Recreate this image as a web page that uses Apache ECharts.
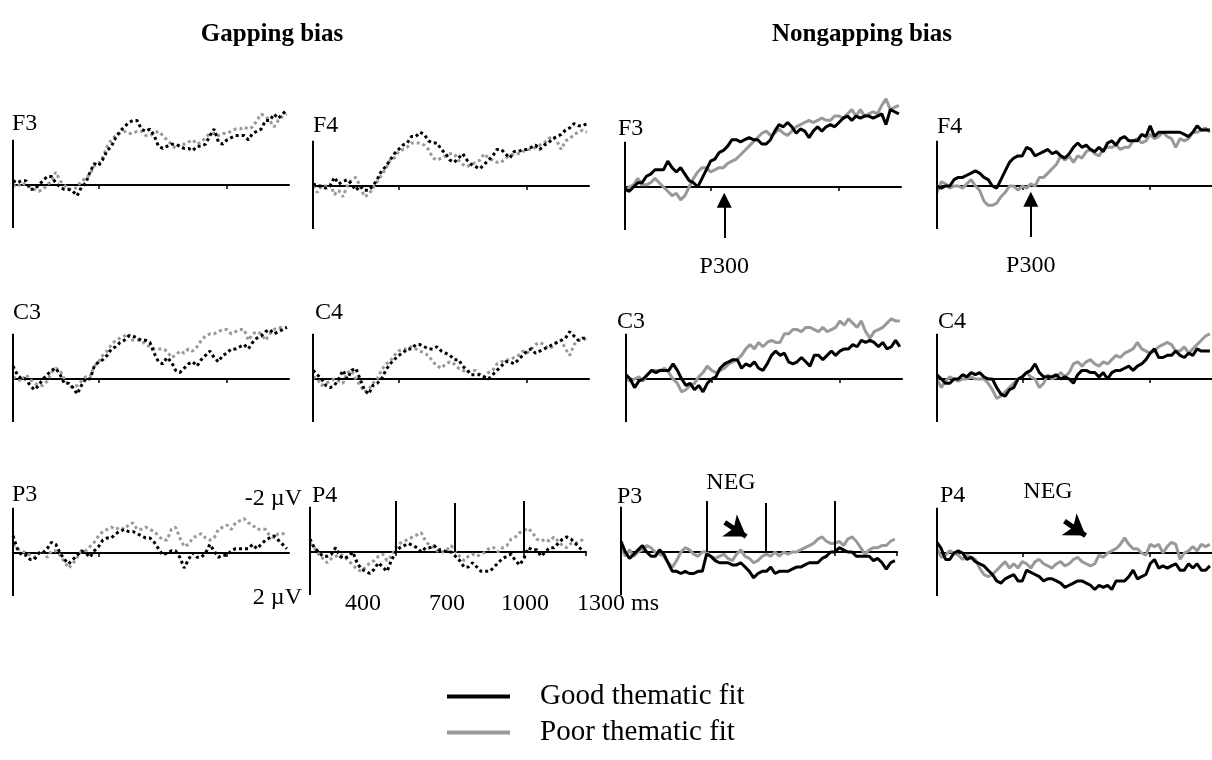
<!DOCTYPE html>
<html>
<head>
<meta charset="utf-8">
<script src="https://cdn.jsdelivr.net/npm/echarts@6/dist/echarts.min.js"></script>
<style>
  html, body { margin: 0; padding: 0; background: #fff; }
  #main { width: 1212px; height: 760px; }
</style>
</head>
<body>
<div id="main"></div>
<script>
// sample times (ms after onset), one value every 20 ms
const timesMs = [0,20,40,60,80,100,120,140,160,180,200,220,240,260,280,300,320,340,360,380,
  400,420,440,460,480,500,520,540,560,580,600,620,640,660,680,700,720,740,760,780,
  800,820,840,860,880,900,920,940,960,980,1000,1020,1040,1060,1080,1100,1120,1140,1160,1180,
  1200,1220,1240,1260,1280];

// amplitudes in microvolts, negative plotted up
// gapping bias
const gapF3Good = [-0.2,-0.1,-0.2,-0.2,0.2,0.2,0,-0.2,-0.4,-0.4,
  -0.1,0.1,0.2,0.2,0.3,0.5,0.1,-0.1,-0.6,-1.0,
  -0.9,-1.2,-1.6,-1.8,-2.2,-2.5,-2.7,-2.9,-3.0,-3.0,
  -2.6,-2.5,-2.6,-2.3,-1.8,-1.7,-1.8,-1.9,-1.9,-1.8,
  -1.7,-1.7,-1.6,-1.8,-1.8,-1.9,-2.3,-2.6,-2.0,-1.9,
  -2.1,-2.2,-2.3,-2.3,-2.3,-2.1,-2.4,-2.5,-2.6,-3.0,
  -3.0,-3.3,-3.1,-3.3,-3.5];
const gapF3Poor = [0,0.1,-0.1,0,0.1,0.2,0.3,0.2,0,-0.2,
  -0.6,-0.2,0,0.2,0.2,0.1,-0.2,-0.3,-0.5,-0.9,
  -1.0,-1.3,-1.8,-2.1,-2.3,-2.4,-2.5,-2.4,-2.4,-2.5,
  -2.5,-2.3,-2.3,-2.4,-2.5,-2.3,-2.1,-1.9,-1.7,-1.9,
  -1.9,-2.0,-2.1,-1.9,-2.0,-2.2,-2.4,-2.4,-2.3,-2.4,
  -2.4,-2.5,-2.6,-2.6,-2.7,-2.6,-2.7,-3.0,-3.3,-3.2,
  -3.0,-2.7,-3.0,-3.2,-3.3];
const gapF4Good = [-0.1,0,0,0.1,0,-0.4,-0.1,-0.2,-0.3,-0.1,
  0.2,0,0.2,0.2,0,-0.3,-0.7,-0.9,-1.2,-1.5,
  -1.7,-1.9,-2.0,-2.3,-2.3,-2.5,-2.4,-2.1,-2.0,-2.0,
  -1.7,-1.5,-1.2,-1.1,-1.3,-1.5,-1.2,-1.0,-0.9,-0.8,
  -1.0,-1.2,-1.4,-1.7,-1.7,-1.5,-1.3,-1.6,-1.6,-1.7,
  -1.7,-1.8,-1.9,-1.7,-1.9,-2.0,-2.2,-2.3,-2.4,-2.6,
  -2.7,-2.9,-2.8,-2.8,-2.9];
const gapF4Poor = [0,0.3,0,0,-0.1,0.4,0.2,0.5,0,-0.3,
  -0.4,0,0.5,0.4,0.1,-0.2,-0.5,-0.8,-1.2,-1.3,
  -1.6,-1.7,-1.8,-2.0,-2.0,-2.0,-1.9,-1.7,-1.3,-1.2,
  -1.3,-1.4,-1.5,-1.5,-1.2,-1.0,-0.9,-1.0,-1.1,-1.2,
  -1.5,-1.3,-1.2,-1.1,-1.1,-1.3,-1.4,-1.5,-1.5,-1.6,
  -1.7,-1.7,-1.8,-1.9,-2.0,-2.2,-2.3,-2.1,-1.7,-2.1,
  -2.2,-2.4,-2.5,-2.6,-2.5];
const gapC3Good = [-0.6,-0.2,0,0,0.3,0.5,0.3,0,-0.2,-0.4,
  -0.5,-0.2,0.2,0.2,0.4,0.7,0.3,0,0,-0.6,
  -0.8,-0.9,-1.1,-1.4,-1.5,-1.7,-1.8,-2.0,-2.0,-1.9,
  -1.8,-1.8,-1.7,-1.2,-0.8,-0.7,-1.0,-0.8,-0.4,-0.3,
  -0.5,-0.7,-0.8,-0.6,-0.9,-1.1,-1.3,-1.0,-0.8,-1.1,
  -1.2,-1.4,-1.4,-1.5,-1.6,-1.4,-1.7,-1.9,-2.0,-2.2,
  -2.3,-2.1,-2.2,-2.3,-2.4];
const gapC3Poor = [-0.1,0,0.1,-0.2,0,0.2,0.3,0.3,0.1,-0.3,
  -0.5,-0.4,0,0.3,0.4,0.3,0.1,-0.1,-0.1,-0.6,
  -0.8,-1.1,-1.3,-1.6,-1.8,-1.9,-2.0,-2.1,-1.8,-1.8,
  -1.8,-1.6,-1.5,-1.4,-1.4,-1.4,-1.3,-1.0,-1.1,-1.3,
  -1.2,-1.4,-1.3,-1.5,-1.8,-2.0,-2.1,-2.1,-2.2,-2.3,
  -2.3,-2.1,-2.2,-2.3,-2.3,-1.8,-2.1,-2.2,-2.1,-1.8,
  -2.1,-2.3,-2.4,-2.4,-2.4];
const gapC4Good = [-0.4,-0.2,0,0.3,0.4,0.3,0,-0.4,0,-0.4,
  -0.5,0,0.5,0.7,0.3,0.2,0,-0.4,-0.7,-0.9,
  -1.1,-1.2,-1.4,-1.4,-1.6,-1.6,-1.5,-1.4,-1.4,-1.5,
  -1.3,-1.2,-1.1,-0.9,-0.9,-0.6,-0.4,-0.2,-0.2,-0.2,
  -0.1,0,-0.2,-0.4,-0.6,-0.8,-0.8,-0.7,-0.9,-1.1,
  -1.3,-1.4,-1.2,-1.3,-1.4,-1.5,-1.6,-1.7,-1.8,-1.9,
  -2.2,-2.0,-1.8,-1.9,-1.9];
const gapC4Poor = [-0.1,0,0.3,0.2,0.1,0,0.1,0.2,-0.3,-0.4,
  0,0.3,0.6,0.5,0.2,0,-0.4,-0.7,-0.8,-1.1,
  -1.3,-1.4,-1.4,-1.5,-1.4,-1.3,-1.2,-1.1,-0.8,-0.6,
  -0.5,-0.7,-0.8,-0.7,-0.5,-0.4,-0.3,-0.4,-0.4,-0.2,
  -0.1,-0.3,-0.4,-0.7,-0.8,-0.9,-0.9,-1.0,-1.1,-1.3,
  -1.2,-1.4,-1.6,-1.7,-1.6,-1.4,-1.5,-1.7,-1.8,-1.4,
  -1.1,-1.6,-1.8,-1.8,-1.9];
const gapP3Good = [-0.8,-0.2,0.1,0.1,0.3,0.3,0,0,-0.2,-0.5,
  -0.4,0,0.3,0.5,0.3,0.1,-0.1,0,0.2,-0.1,
  -0.3,-0.6,-0.7,-0.7,-0.9,-1.0,-1.1,-1.0,-1.0,-0.9,
  -0.8,-0.7,-0.7,-0.5,-0.2,0.1,0,-0.1,-0.1,0.2,
  0.7,0.3,0,0.2,0.2,0,-0.4,-0.1,0.2,0.1,
  0.1,-0.1,-0.2,-0.2,-0.2,-0.2,-0.4,-0.2,-0.4,-0.6,
  -0.7,-0.8,-0.6,-0.4,-0.2];
const gapP3Poor = [-0.4,-0.2,-0.1,0,0.1,0.2,0,-0.1,0.2,-0.1,
  -0.1,0.1,0.4,0.7,0.5,0.2,-0.1,-0.1,-0.3,-0.5,
  -0.8,-1.0,-1.1,-1.2,-1.1,-1.2,-1.1,-1.3,-1.4,-1.1,
  -1.1,-1.2,-1.1,-1.0,-0.8,-0.6,-0.6,-1.1,-1.2,-0.7,
  -0.3,-0.4,-0.7,-0.8,-0.9,-0.7,-0.6,-0.7,-1.1,-1.2,
  -1.3,-1.1,-1.4,-1.5,-1.6,-1.4,-1.3,-1.1,-1.1,-1.1,
  -0.8,-0.7,-0.9,-0.9,-0.9];
const gapP4Good = [-0.6,-0.2,0,0.2,0.2,0.1,-0.2,0.2,0.3,0.2,
  0,0.5,0.8,0.9,1.0,0.8,0.5,0.7,0.9,0.4,
  0,-0.2,-0.3,-0.4,-0.3,-0.2,0,-0.2,-0.2,-0.3,
  -0.1,-0.1,0,0,0.2,0.4,0.7,0.7,0.5,0.7,
  0.9,0.9,0.9,0.7,0.5,0.3,0.2,0.1,0.4,0.6,
  0.3,-0.2,-0.1,-0.1,0.2,0,-0.2,-0.2,-0.4,-0.6,
  -0.7,-0.6,-0.4,-0.2,0];
const gapP4Poor = [-0.4,-0.2,0.1,0.3,0.5,0.3,0.2,0.1,0.2,0.4,
  0.6,0.8,0.9,0.7,0.5,0.4,0.2,0.1,0.4,0.2,
  -0.2,-0.4,-0.5,-0.6,-0.7,-0.8,-0.9,-0.5,-0.3,-0.2,
  0,0,-0.1,-0.3,0,0.2,0.4,0.2,0.1,0.2,
  0.1,0,-0.2,-0.2,0,-0.2,-0.3,-0.6,-0.7,-0.9,
  -1.0,-1.1,-0.9,-0.6,-0.5,-0.6,-0.5,-0.7,-0.5,-0.3,
  -0.2,-0.4,-0.4,-0.5,-0.6];

// nongapping bias
const ngF3Good = [0.1,0.2,0,-0.2,-0.2,-0.5,-0.6,-0.8,-0.8,-0.8,
  -1.2,-0.9,-0.7,-0.9,-0.6,-0.3,-0.2,0,-0.4,-0.8,
  -1.2,-1.3,-1.6,-1.7,-1.9,-2.2,-2.2,-2.1,-2.2,-2.3,
  -2.2,-2.2,-2.0,-2.0,-2.2,-2.6,-2.9,-2.8,-3.0,-2.8,
  -2.5,-2.7,-2.6,-2.3,-2.6,-2.8,-2.6,-2.8,-2.9,-2.8,
  -3.0,-3.2,-3.3,-3.1,-3.3,-3.2,-3.3,-3.3,-3.2,-3.3,
  -3.4,-2.9,-3.6,-3.5,-3.4];
const ngF3Poor = [0.2,0,-0.1,-0.4,-0.1,-0.1,-0.2,-0.4,-0.2,0,
  0.2,0.4,0.3,0.6,0.4,0,-0.4,-0.7,-0.9,-0.9,
  -0.7,-0.8,-0.9,-0.9,-1.1,-1.2,-1.3,-1.5,-1.7,-1.9,
  -2.1,-2.3,-2.5,-2.6,-2.4,-2.5,-2.7,-2.5,-2.4,-2.6,
  -2.8,-2.9,-3.0,-3.1,-3.0,-3.1,-3.2,-3.1,-3.1,-3.3,
  -3.3,-3.2,-3.4,-3.6,-3.3,-3.6,-3.3,-3.4,-3.5,-3.4,
  -3.8,-4.1,-3.6,-3.7,-3.8];
const ngF4Good = [0,0.1,0,0,-0.3,-0.4,-0.4,-0.5,-0.6,-0.7,
  -0.6,-0.4,-0.3,0,0.1,-0.3,-0.7,-1.1,-1.3,-1.4,
  -1.4,-1.8,-1.7,-1.4,-1.5,-1.6,-1.7,-1.5,-1.6,-1.4,
  -1.3,-1.5,-1.8,-2.0,-1.8,-1.9,-1.7,-1.6,-1.8,-1.6,
  -2.0,-2.1,-1.9,-2.2,-2.3,-2.1,-2.1,-2.1,-2.4,-2.3,
  -2.8,-2.3,-2.5,-2.5,-2.5,-2.5,-2.5,-2.5,-2.4,-2.3,
  -2.5,-2.8,-2.6,-2.6,-2.6];
const ngF4Poor = [0.3,-0.2,-0.1,0.1,0,0,0.1,-0.1,-0.3,0,
  0.2,0.7,0.9,0.9,0.8,0.5,0.3,0,0,0.2,
  0,0.1,-0.1,0,-0.4,-0.4,-0.6,-0.8,-1.0,-1.4,
  -1.2,-1.4,-1.1,-1.4,-1.3,-1.6,-1.7,-1.5,-1.4,-1.7,
  -1.8,-1.8,-1.9,-1.7,-1.8,-1.8,-2.1,-2.2,-2.0,-2.1,
  -2.4,-2.2,-2.3,-2.5,-2.3,-2.2,-1.8,-2.2,-2.1,-2.2,
  -2.5,-2.5,-2.6,-2.7,-2.5];
const ngC3Good = [-0.2,0,0.4,0.1,0,-0.2,-0.4,-0.3,-0.4,-0.4,
  -0.4,-0.7,-0.4,0,0.3,0.2,0.5,0.3,0.6,0.2,
  0,-0.1,-0.5,-0.7,-0.8,-0.9,-0.9,-0.5,-0.7,-0.6,
  -0.8,-0.5,-0.4,-0.7,-1.1,-1.3,-1.1,-1.2,-0.8,-0.7,
  -0.8,-1.0,-0.8,-0.6,-1.1,-1.1,-0.9,-1.1,-1.3,-1.1,
  -1.3,-1.4,-1.4,-1.6,-1.5,-1.8,-1.7,-1.8,-1.7,-1.5,
  -1.7,-1.4,-1.5,-1.8,-1.5];
const ngC3Poor = [0,0.1,0,-0.1,0.1,-0.2,-0.4,-0.4,-0.4,-0.5,
  -0.3,0,0.2,0.6,0.5,0.3,0.2,-0.1,-0.3,-0.6,
  -0.4,-0.3,-0.4,-0.5,-0.7,-0.8,-0.9,-1.1,-1.4,-1.6,
  -1.4,-1.7,-1.5,-1.7,-1.8,-1.7,-1.7,-2.1,-2.1,-2.3,
  -2.3,-2.2,-2.4,-2.4,-2.3,-2.2,-2.4,-2.2,-2.3,-2.4,
  -2.7,-2.5,-2.8,-2.6,-2.4,-2.7,-2.2,-1.9,-2.2,-2.3,
  -2.4,-2.6,-2.8,-2.7,-2.7];
const ngC4Good = [-0.2,0,0.2,0.2,0,0,-0.2,-0.1,-0.3,-0.2,
  -0.3,-0.1,0,0,0.4,0.7,0.8,0.5,0.4,0,
  -0.1,-0.3,-0.4,-0.7,-0.3,-0.1,-0.1,-0.1,-0.2,0,
  -0.1,0,0.2,-0.2,-0.4,-0.4,-0.3,-0.3,-0.1,-0.3,
  0,-0.3,-0.4,-0.4,-0.5,-0.6,-0.4,-0.6,-0.7,-0.9,
  -1.2,-1.4,-1.0,-1.0,-1.1,-1.1,-1.3,-1.1,-1.0,-1.2,
  -1.1,-1.4,-1.3,-1.3,-1.3];
const ngC4Poor = [0,0.4,0.1,-0.1,0,0.1,0,0,-0.1,0,
  0,0,0.2,0.5,0.9,0.8,0.6,0.4,0.2,0,
  -0.1,-0.3,-0.1,0,0.4,0.2,-0.2,0,-0.1,-0.3,
  -0.1,-0.3,-0.7,-0.8,-0.6,-0.8,-0.9,-0.7,-0.6,-0.8,
  -0.7,-0.9,-1.1,-1.0,-1.2,-1.3,-1.4,-1.7,-1.4,-1.3,
  -1.2,-1.3,-1.5,-1.6,-1.7,-1.6,-1.3,-1.3,-1.5,-1.2,
  -1.4,-1.6,-1.8,-2.0,-2.1];
const ngP3Good = [-0.5,0,0.3,0.1,-0.1,-0.3,0,0.2,0.2,-0.1,
  0.1,0.5,0.9,0.9,1.0,0.9,1.0,1.0,0.9,0.9,
  0.1,0.2,0.4,0.5,0.5,0.5,0.6,0.6,0.5,0.7,
  0.9,1.2,1.0,0.9,0.9,0.7,1.0,0.9,0.9,0.9,
  0.8,0.7,0.7,0.6,0.5,0.5,0.5,0.3,0.2,0,
  0,-0.2,-0.1,0,0,0.2,0.2,0.2,0.2,0.4,
  0.3,0.5,0.8,0.5,0.4];
const ngP3Poor = [-0.3,0.2,-0.1,0.2,0,-0.1,-0.3,-0.2,0,0.1,
  0.2,0.5,0.7,0.4,0,-0.2,-0.1,0.1,0.2,0,
  0,0.2,0.3,0.2,0.1,0.3,0.4,0.1,-0.1,0.2,
  0.3,0.5,0.4,0.2,0.1,0.2,0,0.2,0,0.1,
  0,0,-0.1,-0.2,-0.3,-0.4,-0.6,-0.7,-0.5,-0.4,
  -0.4,-0.5,-0.3,-0.6,-0.7,-0.5,-0.2,0.1,-0.1,-0.2,
  -0.2,-0.3,-0.3,-0.5,-0.6];
const ngP4Good = [-0.5,-0.2,0.3,0.3,0,-0.1,0,0.3,0.2,0.4,
  0.5,0.6,0.8,1.0,1.3,1.4,1.2,1.1,1.0,1.3,
  1.3,0.8,0.9,1.0,1.1,1.3,1.2,1.2,1.3,1.4,
  1.6,1.5,1.4,1.3,1.3,1.4,1.5,1.7,1.5,1.6,
  1.5,1.7,1.3,1.3,1.3,1.1,0.8,1.2,1.1,1.0,
  0.5,0.3,0.7,0.6,0.7,0.6,0.5,0.8,0.8,0.5,
  0.7,0.5,0.8,0.8,0.6];
const ngP4Poor = [-0.2,0.2,0.1,-0.1,0,0.1,0.3,0.1,0.2,0.3,
  0.7,1.0,1.1,1.0,0.8,0.6,0.4,0.7,0.5,0.7,
  0.4,0.5,0.7,0.4,0.3,0.5,0.6,0.7,0.5,0.4,
  0.6,0.5,0.3,0.2,0.4,0.5,0.6,0.5,0.1,0.2,
  0,-0.1,-0.2,-0.4,-0.7,-0.4,-0.2,-0.2,0,0.1,
  -0.4,-0.3,-0.4,0,-0.3,-0.5,-0.4,0.3,0,-0.1,
  -0.3,-0.1,-0.4,-0.3,-0.4];

// annotations (ms / µV)
const yAxisSpanUv = [-2.1, 2.0];
const windowLinesMs = [400, 675, 1000];
const windowTopUv = [-2.37, -2.28, -2.37];
const p300Ms = [464, 440];
const p300SpanUv = [2.37, 0.62];
const negArrows = [[[485, -1.38], [585, -0.72]], [[598, -1.48], [697, -0.81]]];

const SERIF = '"Liberation Serif", "Times New Roman", serif';
const BLACK = '#000000';
const GRAY = '#999999';
const X_MAX = 1290;
const Y_TOP = -4.5, Y_BOTTOM = 2.5;
const PX_PER_UV = 21.5;

// layout of the 12 panels
const panels = [
  { label: 'F3', left: 13,  base: 185, good: gapF3Good, poor: gapF3Poor, dotted: true },
  { label: 'F4', left: 313, base: 186, good: gapF4Good, poor: gapF4Poor, dotted: true },
  { label: 'F3', left: 625, base: 187, good: ngF3Good,  poor: ngF3Poor,  p300: 0 },
  { label: 'F4', left: 937, base: 186, good: ngF4Good,  poor: ngF4Poor,  p300: 1 },
  { label: 'C3', left: 13,  base: 379, good: gapC3Good, poor: gapC3Poor, dotted: true },
  { label: 'C4', left: 313, base: 379, good: gapC4Good, poor: gapC4Poor, dotted: true },
  { label: 'C3', left: 626, base: 379, good: ngC3Good,  poor: ngC3Poor },
  { label: 'C4', left: 937, base: 379, good: ngC4Good,  poor: ngC4Poor },
  { label: 'P3', left: 13,  base: 553, good: gapP3Good, poor: gapP3Poor, dotted: true },
  { label: 'P4', left: 310, base: 552, good: gapP4Good, poor: gapP4Poor, dotted: true, windows: true, endTick: true },
  { label: 'P3', left: 621, base: 552, good: ngP3Good,  poor: ngP3Poor,  windows: true, endTick: true, neg: 0 },
  { label: 'P4', left: 937, base: 553, good: ngP4Good,  poor: ngP4Poor,  neg: 1 }
];
const labelPos = [[12,124],[313,126],[618,129],[937,127],[13,313],[315,313],[617,322],[938,322],[12,495],[312,496],[617,497],[940,496]];

function toPairs(vals) {
  return vals.map(function (v, i) { return [timesMs[i], v]; });
}

// one markLine segment; style taken from the start item
function seg(a, b, width, endSymbol, endSize, label) {
  return [
    { coord: a, symbol: 'none', lineStyle: { color: BLACK, width: width, type: 'solid' },
      label: label || { show: false } },
    { coord: b, symbol: endSymbol || 'none', symbolSize: endSize || 1 }
  ];
}

const grids = [], xAxes = [], yAxes = [], series = [];
panels.forEach(function (p, i) {
  grids.push({
    left: p.left, top: p.base + Y_TOP * PX_PER_UV,
    width: 276, height: (Y_BOTTOM - Y_TOP) * PX_PER_UV
  });
  xAxes.push({
    type: 'value', gridIndex: i, min: 0, max: X_MAX,
    axisLine: { show: true, onZero: true, lineStyle: { color: BLACK, width: 2 } },
    axisTick: { show: true, customValues: p.endTick ? [400, 1000, X_MAX] : [400, 1000], length: 4,
      lineStyle: { color: BLACK, width: 1.5 } },
    axisLabel: { show: false }, splitLine: { show: false }
  });
  yAxes.push({
    type: 'value', gridIndex: i, min: Y_TOP, max: Y_BOTTOM, inverse: true,
    axisLine: { show: false }, axisTick: { show: false },
    axisLabel: { show: false }, splitLine: { show: false }
  });

  const lineType = p.dotted ? [3, 3] : 'solid';
  const poor = {
    type: 'line', name: p.dotted ? 'Poor (gapping)' : 'Poor thematic fit',
    xAxisIndex: i, yAxisIndex: i, data: toPairs(p.poor),
    showSymbol: false, symbol: 'none', clip: false, silent: true, color: GRAY,
    lineStyle: { color: GRAY, width: 3, type: lineType, cap: 'butt' }
  };
  const good = {
    type: 'line', name: p.dotted ? 'Good (gapping)' : 'Good thematic fit',
    xAxisIndex: i, yAxisIndex: i, data: toPairs(p.good),
    showSymbol: false, symbol: 'none', clip: false, silent: true, color: BLACK,
    lineStyle: { color: BLACK, width: 3, type: lineType, cap: 'butt' }
  };

  // µV axis, drawn only over the ±2 µV span
  const lines = [seg([0, yAxisSpanUv[0]], [0, yAxisSpanUv[1]], 2)];
  if (p.windows) {
    windowLinesMs.forEach(function (t, k) {
      lines.push(seg([t, 0], [t, windowTopUv[k]], 2));
    });
  }
  if (p.p300 !== undefined) {
    const t = p300Ms[p.p300];
    lines.push(seg([t, p300SpanUv[0]], [t, p300SpanUv[1]], 2, 'triangle', 15, {
      show: true, position: 'start', formatter: 'P300', distance: 17,
      color: BLACK, fontFamily: SERIF, fontSize: 24
    }));
  }
  if (p.neg !== undefined) {
    const a = negArrows[p.neg];
    lines.push(seg(a[0], a[1], 5, 'arrow', 20));
  }
  good.markLine = {
    silent: true, animation: false, symbol: ['none', 'none'],
    label: { show: false }, data: lines
  };
  series.push(poor, good);
});

function txt(text, x, y, opts) {
  opts = opts || {};
  const align = opts.align || 'left';
  return {
    type: 'text', x: x, y: y, silent: true,
    style: {
      text: text, fill: BLACK,
      font: (opts.bold ? 'bold ' : '') + (opts.size || 24) + 'px ' + SERIF,
      align: align, textAlign: align, verticalAlign: 'middle', textVerticalAlign: 'middle'
    }
  };
}

const texts = [
  txt('Gapping bias', 272, 35, { bold: true, size: 25, align: 'center' }),
  txt('Nongapping bias', 862, 35, { bold: true, size: 25, align: 'center' }),
  txt('-2 \u00b5V', 302, 499, { align: 'right' }),
  txt('2 \u00b5V', 302, 598, { align: 'right' }),
  txt('400', 363, 604, { align: 'center' }),
  txt('700', 447, 604, { align: 'center' }),
  txt('1000', 525, 604, { align: 'center' }),
  txt('1300 ms', 577, 604),
  txt('NEG', 731, 483, { align: 'center' }),
  txt('NEG', 1048, 492, { align: 'center' })
];
panels.forEach(function (p, i) {
  texts.push(txt(p.label, labelPos[i][0], labelPos[i][1]));
});

const chart = echarts.init(document.getElementById('main'), null, { renderer: 'canvas' });
chart.setOption({
  backgroundColor: '#ffffff',
  animation: false,
  grid: grids,
  xAxis: xAxes,
  yAxis: yAxes,
  legend: {
    data: ['Good thematic fit', 'Poor thematic fit'],
    orient: 'vertical', left: 447, top: 682, padding: 0,
    itemWidth: 63, itemHeight: 4, itemGap: 7, icon: 'rect',
    selectedMode: false,
    textStyle: { color: BLACK, fontFamily: SERIF, fontSize: 29, lineHeight: 29, padding: [0, 0, 0, 25] }
  },
  series: series,
  graphic: texts
});
</script>
</body>
</html>
